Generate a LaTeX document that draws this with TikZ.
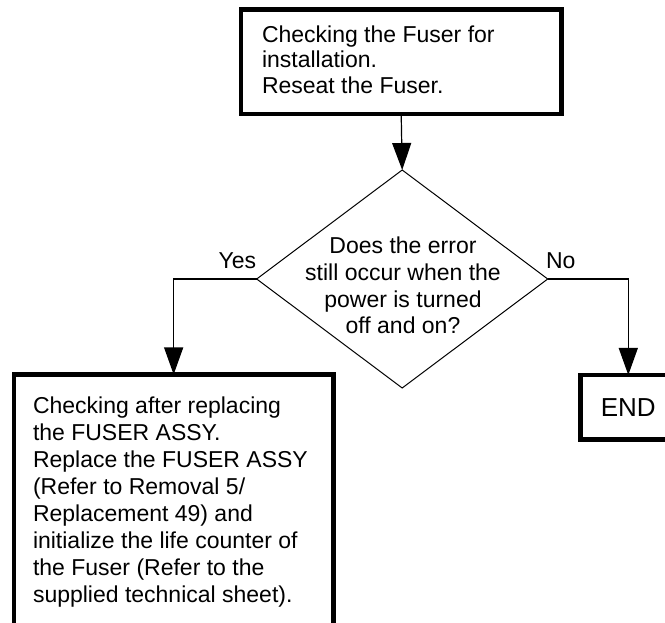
\documentclass[tikz,border=0pt]{standalone}
\usepackage{fontspec}
\setmainfont{Liberation Sans}
\usetikzlibrary{shapes.geometric,arrows.meta}
\tikzset{
  stepbox/.style={draw, rectangle, line width=4.5pt, inner sep=0pt, outer sep=0pt},
  decision/.style={draw, diamond, line width=1pt, inner sep=0pt, outer sep=0pt,
    minimum width=291pt, minimum height=218pt},
  conn/.style={line width=1.2pt, -{Triangle[length=27pt,width=19pt]}},
  txt/.style={inner sep=0pt, outer sep=0pt},
  lbl/.style={inner sep=0pt, outer sep=0pt, font=\fontsize{23}{26}\selectfont}
}
\begin{document}
\begin{tikzpicture}[x=1pt,y=1pt]
  \useasboundingbox (0,0) rectangle (665,623);
  \clip (0,0) rectangle (665,623);

  % boxes and decision
  \node[stepbox, minimum width=320.9pt, minimum height=104.7pt] (check) at (401.2,561.3) {};
  \node[txt, anchor=base west] (checktxt) at (262,580.7)
    {\parbox[t]{290pt}{\raggedright\fontsize{23}{25.7}\selectfont
      Checking the Fuser for\\installation.\\Reseat the Fuser.}};

  \node[decision] (dec) at (402.2,344) {};
  \node[txt, anchor=base] (dectxt) at (403,369.7)
    {\parbox[t]{240pt}{\centering\fontsize{23}{26.9}\selectfont
      Does the error\\still occur when the\\power is turned\\off and on?}};

  \node[stepbox, minimum width=319.3pt, minimum height=268.5pt] (repl) at (173.65,114.25) {};
  \node[txt, anchor=base west] (repltxt) at (33,209.7)
    {\parbox[t]{295pt}{\raggedright\fontsize{23}{27.1}\selectfont
      Checking after replacing\\the FUSER ASSY.\\Replace the FUSER ASSY\\(Refer to Removal 5/\\Replacement 49) and\\initialize the life counter of\\the Fuser (Refer to the\\supplied technical sheet).}};

  \node[stepbox, minimum width=95.6pt, minimum height=64.5pt,
        font=\fontsize{26}{30}\selectfont] (endb) at (628.3,215.75) {END};

  % branch labels
  \node[lbl, anchor=base] (yes) at (237.3,354.7) {Yes};
  \node[lbl, anchor=base] (no) at (560.8,354.7) {No};

  % connectors
  \draw[conn] (check.south) -- (dec.north);
  \draw[conn] (dec.west) -| (repl.north);
  \draw[conn] (dec.east) -| (endb.north);
\end{tikzpicture}
\end{document}
